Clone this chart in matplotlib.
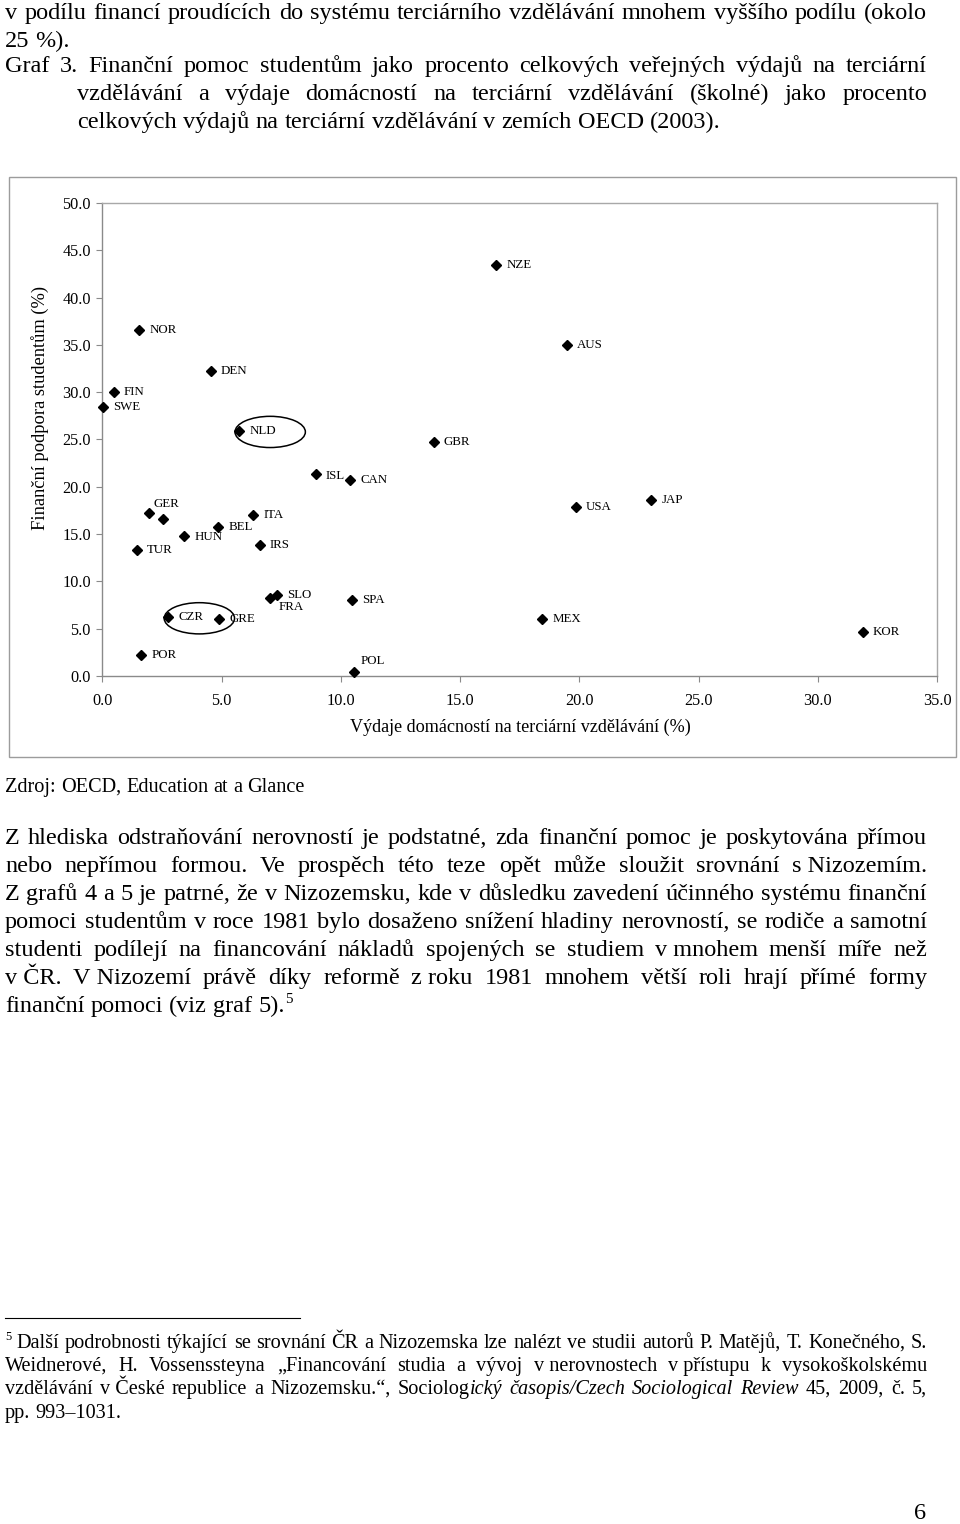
import matplotlib
matplotlib.use("Agg")
import matplotlib.pyplot as plt
from matplotlib.patches import Ellipse, Rectangle
from matplotlib.lines import Line2D

W, H = 960, 1524
SERIF = "Liberation Serif"
plt.rcParams["font.family"] = [SERIF, "DejaVu Serif"]

# ── Chart data (OECD 2003) ────────────────────────────────────────────────────
COUNTRIES = ["NOR", "DEN", "FIN", "SWE", "NLD", "ISL", "CAN", "GER", "",
             "ITA", "BEL", "HUN", "TUR", "IRS", "FRA", "SLO", "CZR", "GRE",
             "POR", "SPA", "POL", "NZE", "AUS", "GBR", "USA", "MEX", "JAP", "KOR"]
HOUSEHOLD_SPEND = [1.55, 4.54, 0.49, 0.04, 5.74, 8.95, 10.4, 1.97, 2.56,
                   6.33, 4.86, 3.44, 1.44, 6.61, 7.03, 7.33, 2.77, 4.90,
                   1.63, 10.46, 10.57, 16.52, 19.5, 13.9, 19.86, 18.45, 23.02, 31.9]
STUDENT_SUPPORT = [36.6, 32.2, 30.0, 28.4, 25.9, 21.4, 20.7, 17.2, 16.6,
                   17.0, 15.8, 14.75, 13.3, 13.8, 8.2, 8.55, 6.2, 6.05,
                   2.2, 8.0, 0.45, 43.4, 35.0, 24.7, 17.9, 6.0, 18.65, 4.6]
X_TICKS = [0, 5, 10, 15, 20, 25, 30, 35]
Y_TICKS = [0, 5, 10, 15, 20, 25, 30, 35, 40, 45, 50]
CIRCLED = ["NLD", "CZR"]

X_LABEL = "Výdaje domácností na terciární vzdělávání (%)"
Y_LABEL = "Finanční podpora studentům (%)"

# label placement (pixels from the marker), default is right of the marker
LABEL_OFFSETS = {"GER": (4, 9), "FRA": (9, -9), "POL": (6, 11),
                 "ISL": (10, -2), "HUN": (10, -1)}

# ── Page text ─────────────────────────────────────────────────────────────────
# "*" toggles italics, "^" toggles superscript, \u00a0 is a fixed space
TOP_LINES = [
    ("v podílu financí proudících do systému terciárního vzdělávání mnohem vyššího podílu (okolo", 5, 927, 19),
    ("25 %).", 5, None, 47),
    ("Graf 3. Finanční pomoc studentům jako procento celkových veřejných výdajů na terciární", 5, 927, 72),
    ("vzdělávání a výdaje domácností na terciární vzdělávání (školné) jako procento", 77, 927, 100),
    ("celkových výdajů na terciární vzdělávání v zemích OECD (2003).", 77, None, 128),
]
SOURCE_LINE = ("Zdroj: OECD, Education at a Glance", 5, None, 792)
BODY_LINES = [
    ("Z hlediska odstraňování nerovností je podstatné, zda finanční pomoc je poskytována přímou", 5, 927, 844),
    ("nebo nepřímou formou. Ve prospěch této teze opět může sloužit srovnání s\u00a0Nizozemím.", 5, 927, 872),
    ("Z grafů 4 a 5 je patrné, že v Nizozemsku, kde v důsledku zavedení účinného systému finanční", 5, 927, 900),
    ("pomoci studentům v roce 1981 bylo dosaženo snížení hladiny nerovností, se rodiče a samotní", 5, 927, 928),
    ("studenti podílejí na financování nákladů spojených se studiem v\u00a0mnohem menší míře než", 5, 927, 956),
    ("v\u00a0ČR. V\u00a0Nizozemí právě díky reformě z\u00a0roku 1981 mnohem větší roli hrají přímé formy", 5, 927, 984),
    ("finanční pomoci (viz graf 5).^5^", 5, None, 1012),
]
FOOT_LINES = [
    ("^5^ Další podrobnosti týkající se srovnání ČR a Nizozemska lze nalézt ve studii autorů P. Matějů, T. Konečného, S.", 5, 927, 1348),
    ("Weidnerové, H. Vossenssteyna „Financování studia a vývoj v\u00a0nerovnostech v\u00a0přístupu k vysokoškolskému", 5, 927, 1371),
    ("vzdělávání v\u00a0České republice a Nizozemsku.“, Sociolog*ický časopis/Czech Sociological Review* 45, 2009, č. 5,", 5, 927, 1394),
    ("pp. 993–1031.", 5, None, 1418),
]
PAGE_NUMBER = "6"

BODY_PT = 17.5
SMALL_PT = 14.6


def fig_xy(x, y):
    return x / W, 1 - y / H


def parse_tokens(line):
    tokens = []
    italic = sup = False
    for word in line.split(" "):
        segs, buf = [], ""
        for ch in word:
            if ch in "*^":
                if buf:
                    segs.append((buf, italic, sup))
                    buf = ""
                if ch == "*":
                    italic = not italic
                else:
                    sup = not sup
            else:
                buf += ch
        if buf:
            segs.append((buf, italic, sup))
        tokens.append(segs)
    return tokens


def draw_line(fig, rend, line, x0, x1, y, size):
    tokens = parse_tokens(line)
    groups, widths = [], []
    for segs in tokens:
        group, w = [], 0.0
        for s, it, sup in segs:
            fs = size * 0.62 if sup else size
            t = fig.text(0, 0, s, fontsize=fs, family=SERIF,
                         style="italic" if it else "normal",
                         ha="left", va="baseline", color="black")
            group.append((t, w, sup))
            w += t.get_window_extent(rend).width
        groups.append(group)
        widths.append(w)
    if x1 is None or len(tokens) < 2:
        a = fig.text(0, 0, "a a", fontsize=size, family=SERIF)
        b = fig.text(0, 0, "aa", fontsize=size, family=SERIF)
        gap = a.get_window_extent(rend).width - b.get_window_extent(rend).width
        a.remove()
        b.remove()
    else:
        gap = (x1 - x0 - sum(widths)) / (len(tokens) - 1)
    x = x0
    for group, w in zip(groups, widths):
        for t, dx, sup in group:
            dy = size * 100 / 72 * 0.38 if sup else 0
            t.set_position(fig_xy(x + dx, y - dy))
        x += w + gap


fig = plt.figure(figsize=(W / 100, H / 100), dpi=100)
fig.patch.set_facecolor("white")
rend = fig.canvas.get_renderer()

# ── Chart ─────────────────────────────────────────────────────────────────────
fig.add_artist(Rectangle(fig_xy(9, 757), 947 / W, 580 / H, transform=fig.transFigure,
                         fill=False, edgecolor="#9c9c9c", linewidth=1.0))

left, right, top, bottom = 102.3, 937.0, 203.0, 676.0
ax = fig.add_axes([left / W, 1 - bottom / H, (right - left) / W, (bottom - top) / H])
ax.set_xlim(0, 35)
ax.set_ylim(0, 50)

ax.plot(HOUSEHOLD_SPEND, STUDENT_SUPPORT, linestyle="none", marker="D",
        markersize=5.6, color="black", clip_on=False, zorder=5)

for name, xv, yv in zip(COUNTRIES, HOUSEHOLD_SPEND, STUDENT_SUPPORT):
    if not name:
        continue
    dx, dy = LABEL_OFFSETS.get(name, (10, 0))
    ax.annotate(name, (xv, yv), xytext=(dx, dy), textcoords="offset pixels",
                fontsize=9.3, family=SERIF, ha="left", va="center",
                annotation_clip=False)
    if name in CIRCLED:
        ax.add_patch(Ellipse((xv + 1.3, yv - 0.1), 2.95, 3.3, fill=False,
                             edgecolor="black", linewidth=1.1, clip_on=False))

ax.set_xticks(X_TICKS)
ax.set_xticklabels([f"{v:.1f}" for v in X_TICKS], family=SERIF)
ax.set_yticks(Y_TICKS)
ax.set_yticklabels([f"{v:.1f}" for v in Y_TICKS], family=SERIF)
ax.tick_params(axis="both", direction="out", length=4.3, width=0.8,
               color="#8a8a8a", labelsize=11.7, labelcolor="black")
ax.tick_params(axis="y", pad=4)
ax.tick_params(axis="x", pad=8)
for side in ["left", "bottom"]:
    ax.spines[side].set_color("#8a8a8a")
    ax.spines[side].set_linewidth(1.0)
for side in ["top", "right"]:
    ax.spines[side].set_color("#a8a8a8")
    ax.spines[side].set_linewidth(1.0)

fig.text(*fig_xy(520, 727), X_LABEL, fontsize=13.1, family=SERIF,
         ha="center", va="center")
fig.text(*fig_xy(40, 408), Y_LABEL, fontsize=13.3, family=SERIF,
         ha="center", va="center", rotation=90)

# ── Surrounding page text ─────────────────────────────────────────────────────
for line, x0, x1, y in TOP_LINES + BODY_LINES:
    draw_line(fig, rend, line, x0, x1, y, BODY_PT)
draw_line(fig, rend, *SOURCE_LINE, SMALL_PT)
for line, x0, x1, y in FOOT_LINES:
    draw_line(fig, rend, line, x0, x1, y, SMALL_PT)

fig.add_artist(Line2D([5 / W, 300 / W], [1 - 1318 / H] * 2,
                      transform=fig.transFigure, color="black", linewidth=0.8))
fig.text(*fig_xy(920, 1519), PAGE_NUMBER, fontsize=BODY_PT, family=SERIF,
         ha="center", va="baseline")

fig.savefig("out.png", dpi=100)
